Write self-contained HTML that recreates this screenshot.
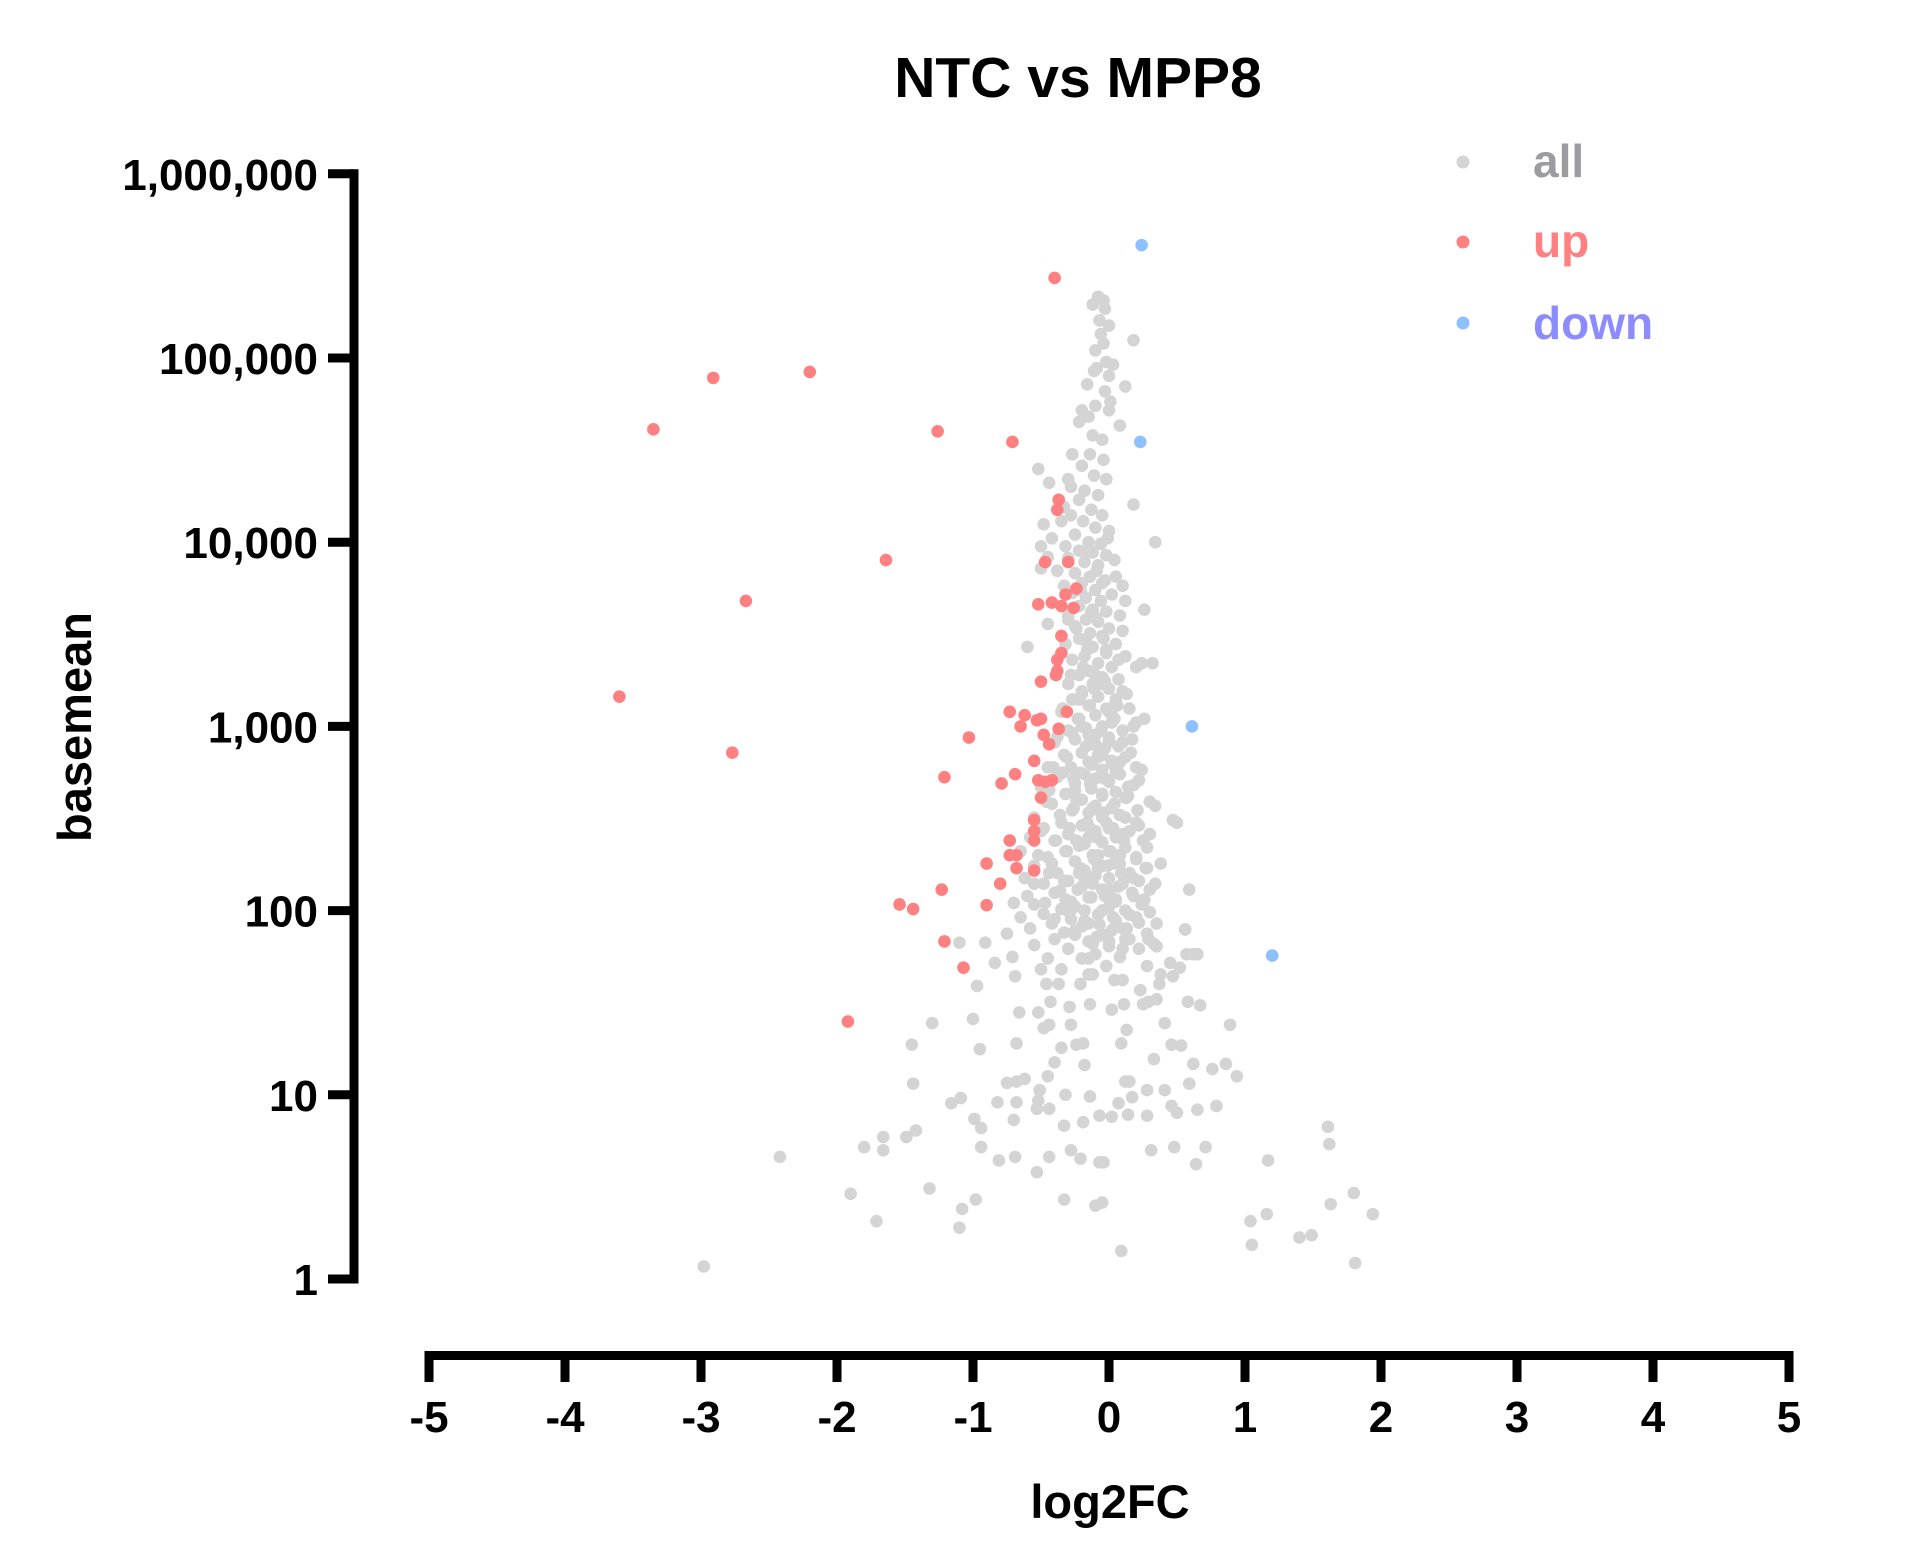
<!DOCTYPE html>
<html><head><meta charset="utf-8"><style>
html,body{margin:0;padding:0;background:#fff}
svg{display:block}
text{font-family:"Liberation Sans",Arial,sans-serif;font-weight:bold}
</style></head><body>
<svg id="chart" width="1928" height="1563" viewBox="0 0 1928 1563" xmlns="http://www.w3.org/2000/svg">
<text x="1078" y="97" font-size="57" text-anchor="middle">NTC vs MPP8</text>
<g id="axes"></g>
<g id="pts-all"></g>
<g id="pts-up"></g>
<g id="pts-down"></g>
<text x="1110" y="1518" font-size="47" text-anchor="middle">log2FC</text>
<text transform="translate(91,727) rotate(-90)" font-size="47" text-anchor="middle">basemean</text>
<g>
<circle cx="1463" cy="162" r="6.5" fill="#d4d4d4"/>
<text x="1533" y="177" font-size="46" fill="#9c9ca0">all</text>
<circle cx="1463" cy="242" r="6.5" fill="#ff8080"/>
<text x="1533" y="257" font-size="46" fill="#ff8080">up</text>
<circle cx="1463" cy="323" r="6.5" fill="#8ec0ff"/>
<text x="1533" y="339" font-size="46" fill="#8c8cff">down</text>
</g>
</svg>
<script>
const xTicks = [-5,-4,-3,-2,-1,0,1,2,3,4,5];
const yTicks = [1,10,100,1000,10000,100000,1000000];
const yTickLabels = ["1","10","100","1,000","10,000","100,000","1,000,000"];
const upLfc = [-0.40,-2.91,-2.20,-3.35,-1.26,-0.71,-0.37,-0.38,-1.64,-0.47,-0.30,-2.67,-0.52,-0.42,-0.35,-0.26,-0.24,-0.32,-0.35,-0.38,-0.35,-0.39,-0.38,-0.50,-3.60,-0.73,-0.62,-0.31,-0.50,-0.53,-0.65,-0.37,-0.48,-0.44,-1.03,-2.77,-0.55,-0.69,-1.21,-0.52,-0.47,-0.42,-0.79,-0.50,-0.55,-0.55,-0.55,-0.73,-0.73,-0.68,-0.90,-0.68,-0.55,-0.80,-1.23,-1.54,-1.44,-0.90,-1.21,-1.07,-1.92];
const upBase = [272000,78000,84000,41000,40000,35000,17000,15000,8000,7800,7800,4800,4600,4700,4500,4400,5600,5200,3100,2300,2500,1900,2000,1750,1450,1200,1150,1200,1100,1080,1000,970,900,800,870,720,650,550,530,510,500,510,490,410,310,270,240,240,200,200,180,170,165,140,130,108,102,107,68,49,25];
const downLfc = [0.24,0.23,0.61,1.20];
const downBase = [410000,35000,1000,57];
const allLfc = [-2.98,-2.42,-1.9,-1.71,-1.8,-1.66,-1.66,-1.49,-1.42,-1.32,-1.44,-1.45,-1.3,-1.1,-1.08,-0.98,-1.16,-1.09,-0.99,-0.94,-0.94,-0.81,-0.69,-0.53,-1.0,-0.95,-0.82,-0.7,-0.68,-0.75,-0.68,-0.62,-0.97,-0.91,-1.1,-0.84,-0.71,-0.69,-0.66,-0.68,-0.33,-0.05,-0.1,0.09,-0.44,-0.28,-0.21,-0.07,-0.04,-0.19,-0.33,-0.07,0.02,0.07,0.12,0.15,0.17,0.14,0.28,0.31,0.28,0.41,0.46,0.5,0.48,0.65,0.64,0.71,0.59,0.62,0.76,0.86,0.94,0.89,0.33,0.46,0.53,0.41,0.67,0.58,0.35,0.37,0.47,0.52,0.57,0.65,0.56,0.35,0.29,0.23,0.25,0.29,0.11,0.13,0.09,0.02,0.04,-0.14,-0.19,-0.24,-0.29,-0.28,-0.21,-0.15,-0.12,-0.37,-0.46,-0.43,-0.44,-0.52,-0.48,-0.4,-0.45,-0.51,-0.52,-0.53,-0.44,-0.32,-0.35,-0.18,-0.14,1.17,1.16,1.04,1.05,1.4,1.49,1.63,1.8,1.94,1.81,1.61,1.62,0.79,
-0.08,-0.04,-0.12,-0.03,-0.07,0.0,-0.06,0.18,-0.04,-0.1,-0.02,-0.09,0.03,0.0,-0.11,0.12,-0.16,-0.03,0.01,-0.1,-0.2,0.0,-0.15,-0.22,0.08,-0.12,-0.05,-0.27,-0.14,-0.04,-0.2,-0.52,-0.3,-0.11,-0.02,-0.44,-0.28,-0.18,-0.08,0.18,-0.22,-0.33,-0.13,-0.28,-0.05,-0.48,-0.35,-0.19,-0.1,0.0,0.34,-0.25,-0.42,-0.15,-0.06,-0.32,-0.5,-0.22,-0.12,-0.02,-0.45,-0.3,-0.18,-0.08,-0.5,-0.38,-0.25,-0.14,0.05,-0.03,-0.2,-0.33,0.1,-0.1,-0.27,0.02,-0.17,-0.06,0.12,0.26,-0.22,-0.12,-0.02,0.08,-0.3,-0.17,-0.08,-0.45,-0.25,0.0,0.1,-0.14,-0.05,-0.22,-0.32,0.05,-0.6,-0.12,0.24,0.32,-0.02,-0.18,0.12,-0.27,-0.08,0.02,-0.15,0.2,-0.22,-0.05,0.07,-0.3,-0.12,0.0,-0.2,0.1,-0.08,-0.27,0.05,-0.15,-0.02,0.15,-0.35,-0.1,0.26,0.2,-0.22,0.02,-0.05,-0.17,-0.3,0.1,-0.1,0.0,-0.25,-0.4,0.17,-0.13,-0.03,0.07,-0.2,-0.33,-0.08,0.12,-0.15,0.02,-0.28,-0.45,0.24,-0.05,-0.18,0.08,-0.38,-0.1,0.0,-0.25,0.18,-0.5,-0.13,0.05,-0.32,-0.05,0.12,-0.2,0.3,-0.42,-0.1,0.02,0.34,-0.27,-0.15,0.08,0.47,0.5,-0.55,-0.05,-0.35,0.2,-0.2,0.0,-0.48,-0.1,0.15,0.3,-0.3,-0.58,-0.15,0.05,-0.4,0.25,-0.05,-0.22,0.12,-0.65,-0.32,0.0,-0.12,0.2,-0.45,0.38,-0.25,0.08,-0.55,-0.05,0.28,-0.18,-0.38,0.15,-0.1,-0.62,0.0,0.22,-0.3,-0.48,0.1,-0.2,0.3,0.59,-0.05,-0.4,-0.6,0.18,-0.13,0.05,-0.28,-0.7,0.25,-0.55,0.0,-0.35,0.12,-0.18,0.3,-0.48,-0.08,-0.65,0.2,-0.28,0.05,-0.42,0.35,-0.15,-0.58,0.1,-0.25,-0.75,0.28,0.56,-0.05,-0.4,0.15,-0.15,-0.55,0.33,0.0,-0.3,0.22,0.62,-0.1,0.08,-0.45,-0.2,0.45,0.28,-0.02,-0.35,0.38,-0.15,0.1,-0.5,
-0.1,-0.2,0.0,-0.15,-0.05,0.05,-0.25,-0.12,-0.02,0.1,-0.18,-0.08,0.03,-0.22,-0.12,0.0,-0.3,-0.16,-0.06,0.06,-0.2,-0.1,0.02,-0.26,0.14,-0.04,-0.14,-0.24,0.08,-0.08,-0.18,0.0,-0.32,0.12,-0.1,-0.22,0.04,-0.14,-0.04,0.2,
-0.16,-0.09,-0.01,-0.21,-0.13,-0.05,0.04,-0.24,-0.17,-0.1,-0.02,0.07,-0.28,-0.19,-0.11,-0.03,0.05,0.13,-0.34,-0.23,-0.14,-0.06,0.02,0.1,0.18,-0.38,-0.27,-0.17,-0.08,0.0,0.08,0.16,-0.41,-0.31,-0.21,-0.12,-0.03,0.06,0.14,0.22,-0.44,-0.34,-0.24,-0.14,-0.05,0.04,0.13,0.21,-0.46,-0.36,-0.26,-0.16,-0.06,0.03,0.12,0.22,0.3,-0.5,-0.39,-0.29,-0.19,-0.09,0.01,0.11,0.2,0.28,-0.52,-0.42,-0.31,-0.21,-0.11,-0.01,0.09,0.18,0.27,-0.55,-0.44,-0.33,-0.23,-0.13,-0.03,0.07,0.17,0.26,0.34,-0.47,-0.36,-0.25,-0.15,-0.05,0.05,0.15,0.24,-0.4,-0.29,-0.18,-0.07,0.03,0.13,0.22,-0.33,-0.2,-0.09,0.02,0.12,-0.25,-0.12,0.0,0.1];
const allBase = [1.17,4.6,2.9,2.06,5.2,5.9,5.0,5.9,6.4,3.1,11.5,18.7,24.5,1.9,2.4,2.7,9,9.6,7.4,5.2,6.6,4.4,4.6,3.8,25.8,17.7,9.1,7.3,9.1,11.6,11.8,12.2,39,67,67,52,56,44,28,19,2.7,2.6,2.5,1.42,4.6,5.0,4.5,4.3,4.3,7.1,6.8,7.7,7.6,9,11.8,11.8,9.7,7.8,7.7,5,10.6,10.6,8.7,8,5.2,8.3,4.2,5.2,11.5,14.7,13.8,14.7,12.6,24,15.6,18.7,18.5,24.5,30.6,32,33,40,44,49,58,58,79,64,70,37,31,32,31,22.5,19,29,42,31,19,18.7,30,24,40,55,45,40,40,32,24,28,23,15,12.6,10.6,9.3,8.4,8.4,10,18,14.5,9.8,4.4,2.25,2.06,1.53,1.68,1.73,2.55,2.93,2.25,1.22,6.7,5.4,8.7,
215000,205000,195000,185000,160000,150000,135000,125000,120000,110000,95000,88000,92000,80000,85000,70000,72000,66000,58000,55000,52000,52000,48000,45000,43000,38000,36000,30000,30000,28000,26000,25000,22000,23000,22000,21000,20000,19000,18000,16000,17000,15500,15000,14000,14000,12500,13000,13000,12000,11500,10000,11000,10500,10000,9800,9500,9500,9000,8800,8500,8300,8200,7800,7500,7200,7000,6800,6500,6500,6200,6000,5800,5800,5500,5300,5200,5000,4800,4800,4300,4500,4300,4200,4000,4000,3800,3700,3600,3500,3400,3300,3200,3100,3000,2800,2800,2700,2700,2200,2200,2500,2400,2400,2300,2200,2100,2000,2100,1900,1850,1800,1700,1700,1600,1550,1550,1450,1400,1400,1300,1250,1250,1200,1150,1100,1050,1100,1050,1000,980,950,950,900,870,850,820,850,800,760,780,720,700,680,680,640,630,600,600,580,580,550,550,530,520,500,490,480,470,460,440,430,420,410,400,390,380,370,360,370,350,340,330,310,300,320,320,300,300,290,280,280,270,270,260,260,250,250,250,240,240,235,225,220,210,210,210,200,195,195,180,185,180,175,175,170,165,160,160,155,150,150,145,145,140,140,135,130,130,130,125,120,120,118,115,112,110,110,108,105,102,100,100,98,96,95,92,92,90,88,85,85,85,80,80,78,75,75,79,74,70,70,68,65,66,64,62,62,58,58,56,55,55,52,50,50,48,45,45,42,48,
1900,1500,1200,900,700,560,450,360,300,260,230,200,180,160,140,125,3800,2600,1700,1300,1000,800,650,520,420,340,280,240,200,170,150,130,115,2400,1800,1400,1100,880,3000,600,
9000,7000,10500,5500,4200,6000,8000,3400,2900,3900,2600,2300,1900,2100,1600,1750,1350,1500,1250,1100,1300,950,1150,820,1000,880,920,780,700,830,640,720,600,680,560,620,520,590,470,510,450,560,400,490,430,380,410,350,390,330,360,300,340,280,320,290,260,270,240,280,230,250,210,240,190,220,200,180,210,170,190,175,160,150,170,140,160,145,130,150,120,135,125,115,140,110,128,105,118,100,112,95,108,90,98,88,84,92,80,86,76,82,72,78,70,74,66,68,62,64,60,58];

const X0 = 1109, XU = 136, Y1 = 1279, DEC = 184.2;
function xs(v){ return X0 + v*XU; }
function ys(v){ return Y1 - Math.log10(v)*DEC; }
const NS = "http://www.w3.org/2000/svg";
function mk(tag, attrs, parent){ const e=document.createElementNS(NS,tag); for(const k in attrs) e.setAttribute(k,attrs[k]); parent.appendChild(e); return e; }

const axes = document.getElementById('axes');
const AX = 354;
let yl = mk('line',{x1:AX,y1:ys(1000000)-4.5,x2:AX,y2:ys(1)+4.5,stroke:'#000','stroke-width':9},axes);


yTicks.forEach((t,i)=>{
  const tk = mk('line',{x1:AX-26,y1:ys(t),x2:AX,y2:ys(t),stroke:'#000','stroke-width':9},axes);
  
  
  const lb = mk('text',{x:318,y:ys(t)+16,'font-size':44,'text-anchor':'end'},axes);
  lb.textContent = yTickLabels[i];
  
  
});
let xl = mk('line',{x1:xs(-5)-4.5,y1:1355.5,x2:xs(5)+4.5,y2:1355.5,stroke:'#000','stroke-width':9},axes);


xTicks.forEach(t=>{
  const tk = mk('line',{x1:xs(t),y1:1355,x2:xs(t),y2:1382,stroke:'#000','stroke-width':9},axes);
  
  
  const lb = mk('text',{x:xs(t),y:1432,'font-size':44,'text-anchor':'middle'},axes);
  lb.textContent = String(t);
  
  
});
function drawSeries(lfc, base, gid, color, name){
  const g = document.getElementById(gid);
  for(let i=0;i<lfc.length && i<base.length;i++){
    const c = mk('circle',{cx:xs(lfc[i]),cy:ys(base[i]),r:6.3,fill:color},g);
    
    
  }
}
drawSeries(allLfc, allBase, 'pts-all', '#d4d4d4', 'point-all');
drawSeries(upLfc, upBase, 'pts-up', '#ff8080', 'point-up');
drawSeries(downLfc, downBase, 'pts-down', '#8ec0ff', 'point-down');
</script>
</body></html>
